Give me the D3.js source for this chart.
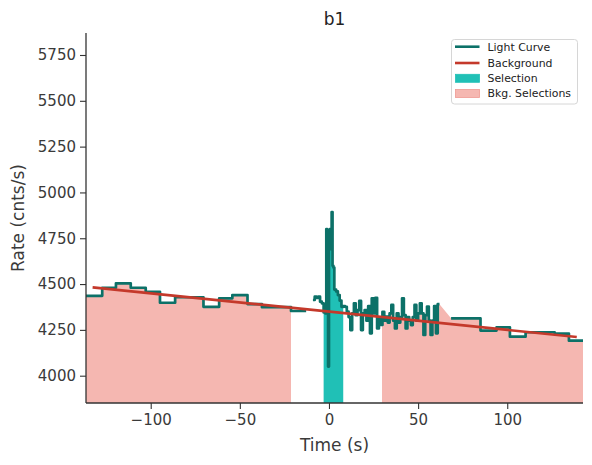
<!DOCTYPE html>
<html><head><meta charset="utf-8">
<script src="https://cdn.jsdelivr.net/npm/d3@7"></script>
<style>body{margin:0;background:#fff}svg{display:block}text{font-family:"DejaVu Sans",sans-serif}</style>
</head><body><svg id="c" width="592" height="465"></svg>
<script>
// ---- data ----
const title = "b1";
const xLabel = "Time (s)";
const yLabel = "Rate (cnts/s)";
const xDomain = [-136.3, 142.5];
const yDomain = [3851, 5870];
const xTicks = [-100, -50, 0, 50, 100];
const yTicks = [4000, 4250, 4500, 4750, 5000, 5250, 5500, 5750];

// coarse bins before the trigger
const preEdges = [-136.3, -127.2, -119.5, -111.2, -102.8, -94.8, -86.3, -70.4, -61.6, -54.2, -45.7, -37.6, -21.3, -12.8];
const preRates = [4436, 4480, 4504, 4480, 4458, 4398, 4428, 4376, 4422, 4440, 4391, 4374, 4353];
// fine bins around the trigger
const fineEdges = [-9, -8, -7, -6, -5, -4, -3, -2, -1.5, -1, -0.5, 0, 0.5, 1, 1.5, 2, 2.5, 3, 4, 5, 6, 7, 8, 9,
  10, 11, 12, 13, 14, 15, 16, 17, 18, 19, 20, 21, 22, 23, 24, 25, 26, 27, 28, 29, 30, 31, 32, 33, 34, 35, 36, 37,
  38, 39, 40, 41, 42, 43, 44, 45, 46, 47, 48, 49, 50, 51, 52, 53, 54, 55, 56, 57, 58, 59, 60, 61, 62];
const fineRates = [4413, 4431, 4425, 4431, 4404, 4395, 4345, 4340, 4800, 4760, 4050, 4720, 4800, 4690, 4893, 4600,
  4590, 4470, 4460, 4440, 4410, 4376, 4380,
  4376, 4350, 4320, 4249, 4340, 4395, 4330, 4358, 4408, 4249, 4340, 4358, 4300, 4380, 4231, 4422, 4340, 4425,
  4258, 4310, 4277, 4349, 4300, 4322, 4290, 4340, 4386, 4300, 4258, 4340, 4290, 4320, 4422, 4330, 4258, 4320,
  4300, 4276, 4320, 4386, 4300, 4340, 4395, 4340, 4222, 4331, 4377, 4300, 4222, 4300, 4380, 4231, 4390];
// coarse bins after the trigger
const postEdges = [68.5, 85.0, 94.0, 101.5, 110.3, 126.6, 134.6, 142.5];
const postRates = [4313, 4246, 4264, 4213, 4237, 4230, 4191];

// background polynomial (linear) endpoints
const bkgTimes = [-132.6, 139];
const bkgRates = [4482, 4211];

const selection = [-3, 8];
const bkgSelections = [[-136.3, -21.3], [29.8, 142.5]];

const legendLabels = ["Light Curve", "Background", "Selection", "Bkg. Selections"];

// ---- drawing ----
const m = {left: 86, right: 583, top: 33, bottom: 403};
const col = {lc: "#0c7168", bkg: "#c4392b", sel: "#20c0b6", bsel: "#f5b7b1", bselEdge: "#ef9a92", axis: "#333333", text: "#3a3a3a"};

const svg = d3.select("#c");
const x = d3.scaleLinear().domain(xDomain).range([m.left, m.right]);
const y = d3.scaleLinear().domain(yDomain).range([m.bottom, m.top]);

function bins(edges, rates) {
  return rates.map((r, i) => ({t0: edges[i], t1: edges[i + 1], r}));
}
const groups = [bins(preEdges, preRates), bins(fineEdges, fineRates), bins(postEdges, postRates)];
const allPts = [];
groups.forEach(g => g.forEach(b => { allPts.push([b.t0, b.r]); allPts.push([b.t1, b.r]); }));

const defs = svg.append("defs");
defs.append("clipPath").attr("id", "plotclip").append("rect")
  .attr("x", m.left).attr("y", m.top).attr("width", m.right - m.left).attr("height", m.bottom - m.top);

const area = d3.area().x(d => x(d[0])).y0(y(yDomain[0])).y1(d => y(d[1]));

function fillRegion(iv, color, id) {
  defs.append("clipPath").attr("id", id).append("rect")
    .attr("x", x(iv[0])).attr("y", m.top)
    .attr("width", x(iv[1]) - x(iv[0])).attr("height", m.bottom - m.top);
  svg.append("path").datum(allPts).attr("d", area)
    .attr("fill", color).attr("clip-path", `url(#${id})`);
}
bkgSelections.forEach((iv, i) => fillRegion(iv, col.bsel, "bs" + i));
fillRegion(selection, col.sel, "sel");

const plot = svg.append("g").attr("clip-path", "url(#plotclip)");
const stepLine = d3.line().x(d => x(d[0])).y(d => y(d[1]));
groups.forEach(g => {
  const pts = [];
  g.forEach(b => { pts.push([b.t0, b.r]); pts.push([b.t1, b.r]); });
  plot.append("path").datum(pts).attr("d", stepLine)
    .attr("fill", "none").attr("stroke", col.lc).attr("stroke-width", 2.7)
    .attr("stroke-linejoin", "round");
});
plot.append("path").datum(bkgTimes.map((t, i) => [t, bkgRates[i]])).attr("d", stepLine)
  .attr("fill", "none").attr("stroke", col.bkg).attr("stroke-width", 2.6);

// axes
const xAxis = svg.append("g").attr("transform", `translate(0,${m.bottom})`)
  .call(d3.axisBottom(x).tickValues(xTicks).tickSize(6).tickPadding(5).tickFormat(d => d < 0 ? "\u2212" + Math.abs(d) : String(d)));
const yAxis = svg.append("g").attr("transform", `translate(${m.left},0)`)
  .call(d3.axisLeft(y).tickValues(yTicks).tickSize(6).tickPadding(4).tickFormat(d3.format("d")));
[xAxis, yAxis].forEach(a => {
  a.select(".domain").attr("stroke", col.axis).attr("stroke-width", 1.3);
  a.selectAll(".tick line").attr("stroke", col.axis).attr("stroke-width", 1.1);
  a.selectAll(".tick text").attr("fill", col.text).style("font-size", "15px").style("font-family", "DejaVu Sans");
});
xAxis.select(".domain").attr("d", `M${m.left},0H${m.right}`);
yAxis.select(".domain").attr("d", `M0,${m.bottom}V${m.top}`);

// labels
svg.append("text").attr("x", (m.left + m.right) / 2).attr("y", 25).attr("text-anchor", "middle")
  .style("font-size", "17px").attr("fill", "#222").text(title);
svg.append("text").attr("x", (m.left + m.right) / 2).attr("y", 451).attr("text-anchor", "middle")
  .style("font-size", "17px").attr("fill", col.text).text(xLabel);
svg.append("text").attr("transform", `translate(24,${(m.top + m.bottom) / 2}) rotate(-90)`).attr("text-anchor", "middle")
  .style("font-size", "17px").attr("fill", col.text).text(yLabel);

// legend
const lg = svg.append("g");
lg.append("rect").attr("x", 451.5).attr("y", 39.5).attr("width", 126).attr("height", 64.5).attr("rx", 3)
  .attr("fill", "#fff").attr("fill-opacity", 0.85).attr("stroke", "#d6d6d6").attr("stroke-width", 1);
const rowsY = [46.7, 63.0, 78.3, 93.5];
legendLabels.forEach((lab, i) => {
  const yy = rowsY[i];
  if (i < 2) {
    lg.append("line").attr("x1", 455).attr("x2", 479.5).attr("y1", yy).attr("y2", yy)
      .attr("stroke", i === 0 ? col.lc : col.bkg).attr("stroke-width", 2.6);
  } else {
    lg.append("rect").attr("x", 455.5).attr("y", yy - 4).attr("width", 24).attr("height", 8)
      .attr("fill", i === 2 ? col.sel : col.bsel).attr("stroke", i === 2 ? col.sel : col.bselEdge).attr("stroke-width", 0.8);
  }
  lg.append("text").attr("x", 487.5).attr("y", yy + 3.8).style("font-size", "10.9px").attr("fill", "#222").text(lab);
});
</script></body></html>
